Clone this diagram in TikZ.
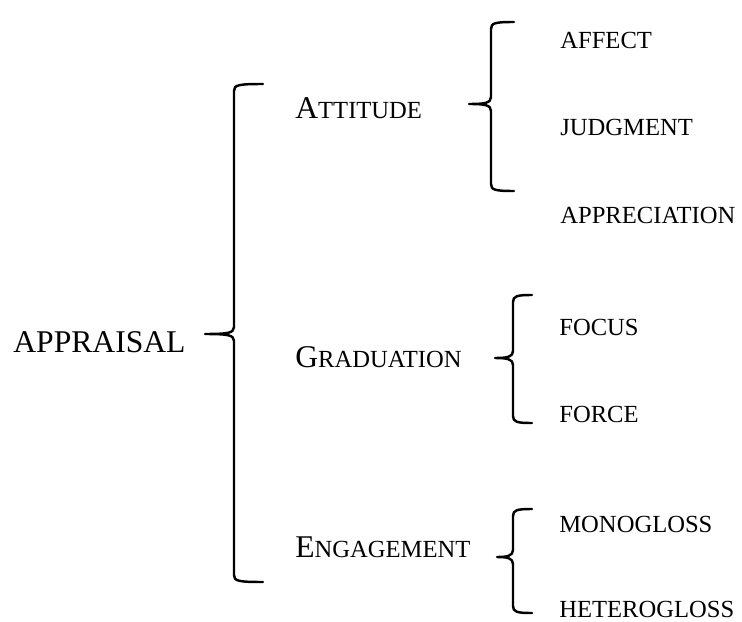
\documentclass[tikz,border=0pt]{standalone}
\usepackage{fontspec}
\setmainfont{Liberation Serif}
\usepackage{tikz}
\usetikzlibrary{positioning}
\tikzset{
x=0.02cm, y=-0.02cm, % one unit is one pixel of the layout
big/.style={anchor=base west, inner sep=0pt, font=\fontsize{18}{20}\selectfont}, % top level labels
small/.style={anchor=base west, inner sep=0pt, font=\fontsize{14}{16}\selectfont}, % leaf labels
bracket/.style={line width=1.4pt, line cap=round, line join=round}, % the curly braces
}
% fake small caps: first letter big, the rest smaller
\newcommand{\fsc}[2]{#1{\fontsize{14}{16}\selectfont #2}}
% brace: vertical x, top y, tip y, bottom y, tip x, hook end x
\newcommand{\curly}[6]{%
  \draw[bracket] (#6,#2) .. controls (#1+4,#2) and (#1,#2+1) .. (#1,#2+7)
    -- (#1,#3-7) .. controls (#1,#3-1) and (#1-6,#3) .. (#5,#3)
    .. controls (#1-6,#3) and (#1,#3+1) .. (#1,#3+7)
    -- (#1,#4-7) .. controls (#1,#4-1) and (#1+4,#4) .. (#6,#4);}

\begin{document}
\begin{tikzpicture}
                \useasboundingbox (0,0) rectangle (742,621);
                \node[big] (appraisal) at (13,352) {APPRAISAL};
                \node[big] (attitude) at (295,119) {\fsc{A}{TTITUDE}};
                \node[big] (graduation) at (295,367) {\fsc{G}{RADUATION}};
                \node[big] (engagement) at (295,557) {\fsc{E}{NGAGEMENT}};
                \node[small] (affect) at (560,49) {AFFECT};
                \node[small] (judgment) at (560,136) {JUDGMENT};
                \node[small] (appreciation) at (560,223) {APPRECIATION};
                \node[small] (focus) at (559,335) {FOCUS};
                \node[small] (force) at (559,422) {FORCE};
                \node[small] (monogloss) at (559,532) {MONOGLOSS};
                \node[small] (heterogloss) at (559,617) {HETEROGLOSS};
                % braces
                \curly{234}{84}{334}{582}{205}{263}
                \curly{491}{22}{104}{191}{469}{514}
                \curly{513}{295}{358}{423}{495}{532}
                \curly{513}{509}{557}{613}{497}{532}
                \end{tikzpicture}
\end{document}
